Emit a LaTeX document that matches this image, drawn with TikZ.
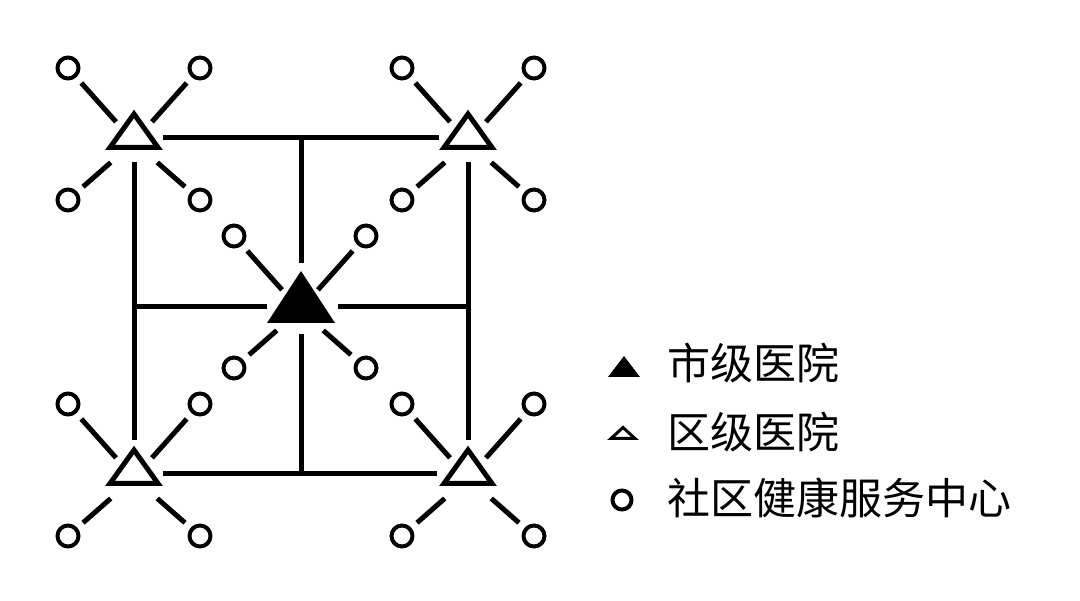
\documentclass[tikz,border=0pt]{standalone}
\usepackage{fontspec}
\usetikzlibrary{calc}
\newfontfamily\cjk{Noto Sans CJK SC}
\newcommand\hubspokes[1]{%
  \node[sat] (#1-ul) at ($(#1)+(-66,-66)$) {};
  \node[sat] (#1-ur) at ($(#1)+(66,-66)$) {};
  \node[sat] (#1-ll) at ($(#1)+(-66,66)$) {};
  \node[sat] (#1-lr) at ($(#1)+(66,66)$) {};
  \coordinate (#1-t) at ($(#1)+(0,8)$);
  \draw[upspoke] (#1-ul.center) -- (#1-t);
  \draw[upspoke] (#1-ur.center) -- (#1-t);
  \draw[lowspoke] (#1-ll.center) -- (#1-t);
  \draw[lowspoke] (#1-lr.center) -- (#1-t);
}
\newcommand\districttri[1]{%
  \draw[line width=5pt, line join=miter] ($(#1)+(0,-20)$) -- ($(#1)+(24,13.5)$) -- ($(#1)+(-24,13.5)$) -- cycle;
}
\begin{document}
\begin{tikzpicture}[x=1pt,y=-1pt,
  sat/.style={circle, draw, line width=4pt, minimum size=21pt, inner sep=0pt},
  upspoke/.style={line width=5pt, shorten <=20pt, shorten >=27pt},
  lowspoke/.style={line width=5pt, shorten <=20pt, shorten >=31pt},
  gridline/.style={line width=5pt},
  legtext/.style={anchor=base west, inner sep=0pt, font=\cjk\fontsize{43}{50}\selectfont}]
\useasboundingbox (0,0) rectangle (1080,601);
\fill[white] (0,0) rectangle (1080,601);

% hubs
\coordinate (TL) at (134,134);
\coordinate (TR) at (468,134);
\coordinate (BL) at (134,470);
\coordinate (BR) at (468,470);
\coordinate (C) at (300,302);

\hubspokes{TL}
\hubspokes{TR}
\hubspokes{BL}
\hubspokes{BR}
\hubspokes{C}

\districttri{TL}
\districttri{TR}
\districttri{BL}
\districttri{BR}
\fill ($(C)+(1,-31)$) -- ($(C)+(35,21)$) -- ($(C)+(-33,21)$) -- cycle;

% grid
\coordinate (TL-g) at (134,138);
\coordinate (TR-g) at (468,138);
\coordinate (BL-g) at (134,474);
\coordinate (BR-g) at (468,474);
\coordinate (C-g) at (301,307);
\coordinate (topmid) at (301,138);
\coordinate (botmid) at (301,474);
\coordinate (leftmid) at (134,307);
\coordinate (rightmid) at (468,307);

\draw[gridline, shorten <=29pt, shorten >=29pt] (TL-g) -- (TR-g);
\draw[gridline, shorten <=29pt, shorten >=31pt] (BL-g) -- (BR-g);
\draw[gridline, shorten <=24pt, shorten >=34pt] (TL-g) -- (BL-g);
\draw[gridline, shorten <=24pt, shorten >=34pt] (TR-g) -- (BR-g);
\draw[gridline, shorten >=44pt] (topmid) -- (C-g);
\draw[gridline, shorten <=27pt] (C-g) -- (botmid);
\draw[gridline, shorten >=34pt] (leftmid) -- (C-g);
\draw[gridline, shorten <=37pt] (C-g) -- (rightmid);

% legend
\fill (608,377) -- (640,377) -- (624,356) -- cycle;
\draw[line width=3pt, line join=miter] (623,427.5) -- (635,438.5) -- (611,438.5) -- cycle;
\node[sat, minimum size=19pt] (legc) at (622,500) {};
\node[legtext] (t1) at (667,380) {市级医院};
\node[legtext] (t2) at (667,449) {区级医院};
\node[legtext] (t3) at (667,515) {社区健康服务中心};
\end{tikzpicture}
\end{document}
